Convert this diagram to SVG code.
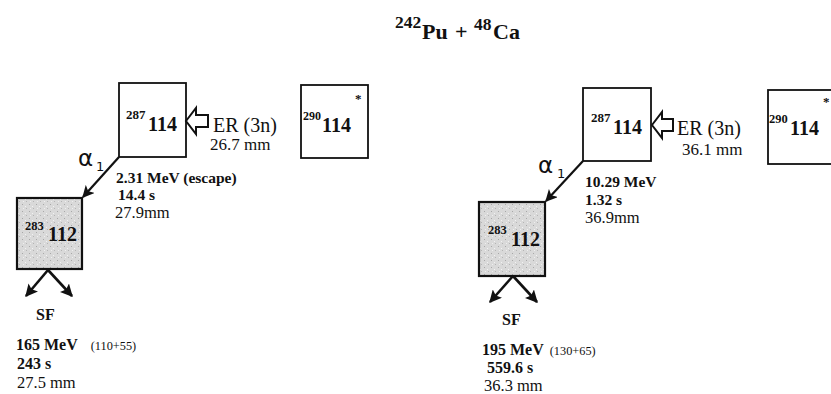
<svg xmlns="http://www.w3.org/2000/svg" width="831" height="394" viewBox="0 0 831 394">
<defs>
<style>
.t{font-family:"Liberation Serif","Times New Roman",serif;fill:#111}
.b{font-weight:bold}
.box{fill:#fff;stroke:#111;stroke-width:1.8}
.dbox{fill:url(#stip);stroke:#111;stroke-width:2.2}
.ln{stroke:#111;stroke-width:2.2;fill:none}
.sf{stroke:#111;stroke-width:2.6;fill:none}
.hol{fill:#fff;stroke:#111;stroke-width:2;stroke-linejoin:miter}
.al{font-family:"DejaVu Sans","Liberation Sans",sans-serif;fill:#111}
</style>
<pattern id="stip" width="7" height="7" patternUnits="userSpaceOnUse">
<rect width="7" height="7" fill="#d9d9d9"/>
<rect x="1" y="1" width="1" height="1" fill="#a8a8a8"/>
<rect x="4" y="3" width="1" height="1" fill="#f2f2f2"/>
<rect x="5" y="5" width="1" height="1" fill="#b4b4b4"/>
<rect x="2" y="5" width="1" height="1" fill="#efefef"/>
</pattern>
<marker id="ah" viewBox="0 0 10 10" refX="9" refY="5" markerWidth="5.5" markerHeight="5.5" orient="auto" markerUnits="strokeWidth">
<path d="M0,0 L10,5 L0,10 L2.5,5 Z" fill="#111"/>
</marker>
<marker id="ah2" viewBox="0 0 10 10" refX="9" refY="5" markerWidth="4.8" markerHeight="4.8" orient="auto" markerUnits="strokeWidth">
<path d="M0,0 L10,5 L0,10 L2,5 Z" fill="#111"/>
</marker>
</defs>
<rect width="831" height="394" fill="#fff"/>

<g id="title">
<text class="t b"><tspan x="395" y="28" font-size="17.5">242</tspan><tspan x="422" y="39" font-size="22">Pu</tspan><tspan x="455" y="39" font-size="22">+</tspan><tspan x="474" y="30" font-size="17.5">48</tspan><tspan x="493" y="39" font-size="22">Ca</tspan></text>
</g>

<!-- Left chain -->
<g id="L287">
<rect class="box" x="119" y="83" width="67" height="74"/>
<text class="t b"><tspan x="126" y="119" font-size="13">287</tspan><tspan x="148" y="131" font-size="20">114</tspan></text>
</g>
<g id="L290">
<rect class="box" x="301" y="85" width="67" height="73"/>
<text class="t b"><tspan x="303" y="120" font-size="12">290</tspan><tspan x="322" y="132" font-size="20">114</tspan></text>
<text class="t b" x="355" y="103" font-size="13">*</text>
</g>
<g id="L283">
<rect class="dbox" x="17" y="198" width="65" height="71"/>
<text class="t b"><tspan x="25" y="230" font-size="12.5">283</tspan><tspan x="48" y="241" font-size="20">112</tspan></text>
</g>
<g id="Llabels">
<text class="t" x="213" y="132" font-size="20">ER (3n)</text>
<text class="t" x="210" y="150" font-size="17">26.7 mm</text>
<text class="al" x="78" y="166" font-size="23">α</text>
<text class="al" x="96" y="171" font-size="13">1</text>
<text class="t b" x="116" y="183" font-size="15.5">2.31 MeV (escape)</text>
<text class="t b" x="118" y="200" font-size="15.5">14.4 s</text>
<text class="t" x="115" y="218" font-size="16.5">27.9mm</text>
<text class="t b" x="36" y="320" font-size="16">SF</text>
<text class="t" x="16" y="350"><tspan class="b" font-size="16">165 MeV</tspan><tspan font-size="12.3" dx="13">(110+55)</tspan></text>
<text class="t b" x="17" y="369" font-size="16">243 s</text>
<text class="t" x="17" y="388" font-size="16.5">27.5 mm</text>
</g>

<!-- Right chain -->
<g id="R287">
<rect class="box" x="583" y="88" width="68" height="73"/>
<text class="t b"><tspan x="591" y="122" font-size="13">287</tspan><tspan x="613" y="134" font-size="20">114</tspan></text>
</g>
<g id="R290">
<rect class="box" x="768" y="90" width="70" height="74"/>
<text class="t b"><tspan x="769" y="123" font-size="12.5">290</tspan><tspan x="790" y="135" font-size="20">114</tspan></text>
<text class="t b" x="823" y="106" font-size="13">*</text>
</g>
<g id="R283">
<rect class="dbox" x="479" y="202" width="66" height="74"/>
<text class="t b"><tspan x="488" y="234" font-size="12.5">283</tspan><tspan x="511" y="246" font-size="20">112</tspan></text>
</g>
<g id="Rlabels">
<text class="t" x="677" y="135" font-size="20">ER (3n)</text>
<text class="t" x="682" y="155" font-size="17">36.1 mm</text>
<text class="al" x="538" y="173" font-size="23">α</text>
<text class="al" x="557" y="178" font-size="13">1</text>
<text class="t b" x="585" y="187" font-size="15.5">10.29 MeV</text>
<text class="t b" x="585" y="205" font-size="15.5">1.32 s</text>
<text class="t" x="585" y="223" font-size="16.5">36.9mm</text>
<text class="t b" x="502" y="325" font-size="16">SF</text>
<text class="t" x="482" y="355"><tspan class="b" font-size="16">195 MeV</tspan><tspan font-size="12.3" dx="6">(130+65)</tspan></text>
<text class="t b" x="487" y="373" font-size="16">559.6 s</text>
<text class="t" x="484" y="391" font-size="16.5">36.3 mm</text>
</g>

<g id="connectors">
<line class="ln" x1="119" y1="157" x2="83" y2="197" marker-end="url(#ah)"/>
<line class="sf" x1="48" y1="270" x2="26" y2="296" marker-end="url(#ah2)"/>
<line class="sf" x1="48" y1="270" x2="72" y2="296" marker-end="url(#ah2)"/>
<polygon class="hol" points="186,121 196,108 196,115 208,115 208,127 196,127 196,134"/>

<line class="ln" x1="583" y1="161" x2="546" y2="201" marker-end="url(#ah)"/>
<line class="sf" x1="513" y1="276" x2="490" y2="302" marker-end="url(#ah2)"/>
<line class="sf" x1="513" y1="276" x2="537" y2="302" marker-end="url(#ah2)"/>
<polygon class="hol" points="652,125 662,112 662,119 673,119 673,131 662,131 662,138"/>
</g>
</svg>
